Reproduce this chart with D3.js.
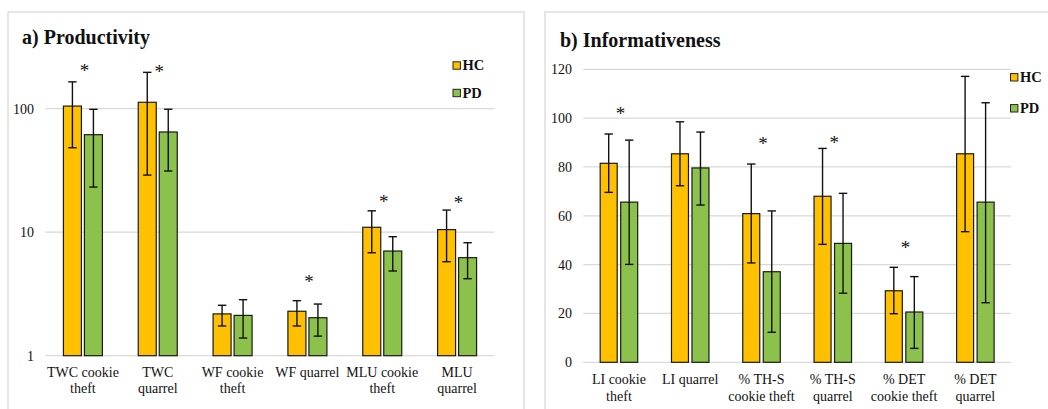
<!DOCTYPE html>
<html>
<head>
<meta charset="utf-8">
<script src="https://cdn.jsdelivr.net/npm/d3@7/dist/d3.min.js"></script>
</head>
<body style="margin:0;padding:0;background:#fff">
<svg id="chart" width="1048" height="409" style="display:block"></svg>
<script>
// ---------- Data: a) Productivity (log scale) ----------
const prodCategories = [["TWC cookie", "theft"], ["TWC", "quarrel"], ["WF cookie", "theft"], ["WF quarrel"], ["MLU cookie", "theft"], ["MLU", "quarrel"]];
const prodHC      = [105, 112.7, 2.18, 2.29, 10.96, 10.5];
const prodHCLow   = [48.3, 29, 1.74, 1.74, 6.82, 5.77];
const prodHCHigh  = [165, 197, 2.56, 2.79, 14.9, 15.1];
const prodPD      = [61.6, 64.8, 2.12, 2.03, 7.04, 6.22];
const prodPDLow   = [23.2, 31.3, 1.39, 1.44, 4.85, 4.2];
const prodPDHigh  = [98.9, 99, 2.84, 2.62, 9.2, 8.22];
const prodSigAt   = [212, 210, null, 4.16, 18.6, 18.0];   // asterisk level (data units), null = none
const prodTicks   = [1, 10, 100];

// ---------- Data: b) Informativeness (linear) ----------
const infCategories = [["LI cookie", "theft"], ["LI quarrel"], ["% TH-S", "cookie theft"], ["% TH-S", "quarrel"], ["% DET", "cookie theft"], ["% DET", "quarrel"]];
const infHC      = [81.5, 85.4, 60.9, 68, 29.3, 85.4];
const infHCLow   = [69.6, 72.3, 40.7, 48.3, 19.9, 53.5];
const infHCHigh  = [93.5, 98.5, 81.2, 87.6, 38.9, 117.1];
const infPD      = [65.6, 79.6, 37.1, 48.7, 20.6, 65.6];
const infPDLow   = [40.1, 64.4, 12.3, 28.3, 5.7, 24.4];
const infPDHigh  = [91, 94.3, 62, 69.2, 35.1, 106.3];
const infSigAt   = [102.9, null, 90.6, 91, 48, null];
const infTicks   = [0, 20, 40, 60, 80, 100, 120];

const seriesNames = ["HC", "PD"];
const colors = { HC: "#FFC000", PD: "#8CC14C" };
const FONT = "Liberation Serif";

const svg = d3.select("#chart");
svg.append("rect").attr("width", 1048).attr("height", 409).attr("fill", "#fff");

function panel(cfg) {
  const g = svg.append("g");
  g.append("rect")
    .attr("x", cfg.frame[0]).attr("y", cfg.frame[1])
    .attr("width", cfg.frame[2]).attr("height", cfg.frame[3])
    .attr("fill", "none").attr("stroke", "#D9D9D9").attr("stroke-width", 1.3);
  g.append("text").attr("x", cfg.titleX).attr("y", cfg.titleY)
    .style("font-family", FONT).attr("fill", "#111")
    .attr("font-size", 20).attr("font-weight", "bold").text(cfg.title);

  const x0 = d3.scaleBand().domain(d3.range(cfg.cats.length)).range(cfg.xRange).padding(0);
  const half = cfg.barW + cfg.gap / 2;
  const p = cfg.gap / (cfg.barW + cfg.gap);
  const x1 = d3.scaleBand().domain(seriesNames).range([-half, half]).paddingInner(p).paddingOuter(0);
  const y = cfg.y;

  g.append("g").selectAll("line").data(cfg.ticks).join("line")
    .attr("x1", cfg.xRange[0]).attr("x2", cfg.xRange[1])
    .attr("y1", d => y(d)).attr("y2", d => y(d))
    .attr("stroke", "#D9D9D9").attr("stroke-width", 1.2);

  const yAxis = d3.axisLeft(y).tickValues(cfg.ticks).tickSize(0).tickPadding(0).tickFormat(d3.format("d"));
  const ya = g.append("g").attr("transform", `translate(${cfg.yLabelX},0)`).call(yAxis)
    .attr("font-family", FONT);
  ya.select(".domain").remove();
  ya.selectAll("text").attr("font-size", 14).attr("fill", "#111").style("font-family", FONT);

  const data = cfg.cats.map((c, i) => ({
    i,
    vals: [
      { s: "HC", v: cfg.hc[i], lo: cfg.hcLo[i], hi: cfg.hcHi[i] },
      { s: "PD", v: cfg.pd[i], lo: cfg.pdLo[i], hi: cfg.pdHi[i] }
    ]
  }));
  const groups = g.append("g").selectAll("g").data(data).join("g")
    .attr("transform", d => `translate(${x0(d.i) + x0.bandwidth() / 2},0)`);

  groups.selectAll("rect").data(d => d.vals).join("rect")
    .attr("x", d => x1(d.s)).attr("width", x1.bandwidth())
    .attr("y", d => y(d.v)).attr("height", d => y(cfg.base) - y(d.v))
    .attr("fill", d => colors[d.s]).attr("stroke", "#1a1a1a").attr("stroke-width", 1.2);

  const eb = groups.selectAll("g.eb").data(d => d.vals).join("g").attr("class", "eb");
  eb.append("line")
    .attr("x1", d => x1(d.s) + x1.bandwidth() / 2).attr("x2", d => x1(d.s) + x1.bandwidth() / 2)
    .attr("y1", d => y(d.lo)).attr("y2", d => y(d.hi))
    .attr("stroke", "#111").attr("stroke-width", 1.4);
  ["lo", "hi"].forEach(k => {
    eb.append("line")
      .attr("x1", d => x1(d.s) + x1.bandwidth() / 2 - 4.2).attr("x2", d => x1(d.s) + x1.bandwidth() / 2 + 4.2)
      .attr("y1", d => y(d[k])).attr("y2", d => y(d[k]))
      .attr("stroke", "#111").attr("stroke-width", 1.4);
  });

  groups.filter(d => cfg.sig[d.i] != null).append("text")
    .attr("x", 1.5).attr("y", d => y(cfg.sig[d.i])).attr("dy", "0.46em")
    .attr("text-anchor", "middle").attr("font-size", 19)
    .style("font-family", FONT).attr("fill", "#111").text("*");

  const lab = g.append("g").selectAll("text").data(cfg.cats).join("text")
    .attr("x", (d, i) => x0(i) + x0.bandwidth() / 2)
    .attr("y", cfg.labelY).attr("text-anchor", "middle").attr("font-size", 14)
    .style("font-family", FONT).attr("fill", "#111");
  lab.selectAll("tspan").data(d => d).join("tspan")
    .attr("x", function () { return d3.select(this.parentNode).attr("x"); })
    .attr("dy", (d, j) => j === 0 ? 0 : cfg.lineH).text(d => d);

  const lg = g.append("g").selectAll("g").data(seriesNames).join("g")
    .attr("transform", (d, i) => `translate(${cfg.legendX},${cfg.legendY[i]})`);
  lg.append("rect").attr("x", 0).attr("y", -3.7).attr("width", 7.4).attr("height", 7.4)
    .attr("fill", d => colors[d]).attr("stroke", "#222").attr("stroke-width", 1);
  lg.append("text").attr("x", 9.5).attr("y", 0).attr("dy", "0.34em")
    .attr("font-size", 14.5).attr("font-weight", "bold")
    .style("font-family", FONT).attr("fill", "#111").text(d => d);
}

panel({
  frame: [8, 12, 516, 420],
  title: "a) Productivity", titleX: 22, titleY: 44,
  cats: prodCategories, hc: prodHC, hcLo: prodHCLow, hcHi: prodHCHigh,
  pd: prodPD, pdLo: prodPDLow, pdHi: prodPDHigh, sig: prodSigAt,
  ticks: prodTicks, base: 1,
  xRange: [45.5, 494.5],
  y: d3.scaleLog().domain([1, 100]).range([355.7, 108.7]),
  yLabelX: 34, barW: 18, gap: 3,
  labelY: 376.5, lineH: 16.5,
  legendX: 453, legendY: [65.5, 93]
});

panel({
  frame: [545, 12, 520, 420],
  title: "b) Informativeness", titleX: 560, titleY: 47,
  cats: infCategories, hc: infHC, hcLo: infHCLow, hcHi: infHCHigh,
  pd: infPD, pdLo: infPDLow, pdHi: infPDHigh, sig: infSigAt,
  ticks: infTicks, base: 0,
  xRange: [583.3, 1011],
  y: d3.scaleLinear().domain([0, 120]).range([362.3, 69.3]),
  yLabelX: 572, barW: 17, gap: 3.5,
  labelY: 384, lineH: 16.7,
  legendX: 1010.5, legendY: [77.3, 108.3]
});
</script>
</body>
</html>
